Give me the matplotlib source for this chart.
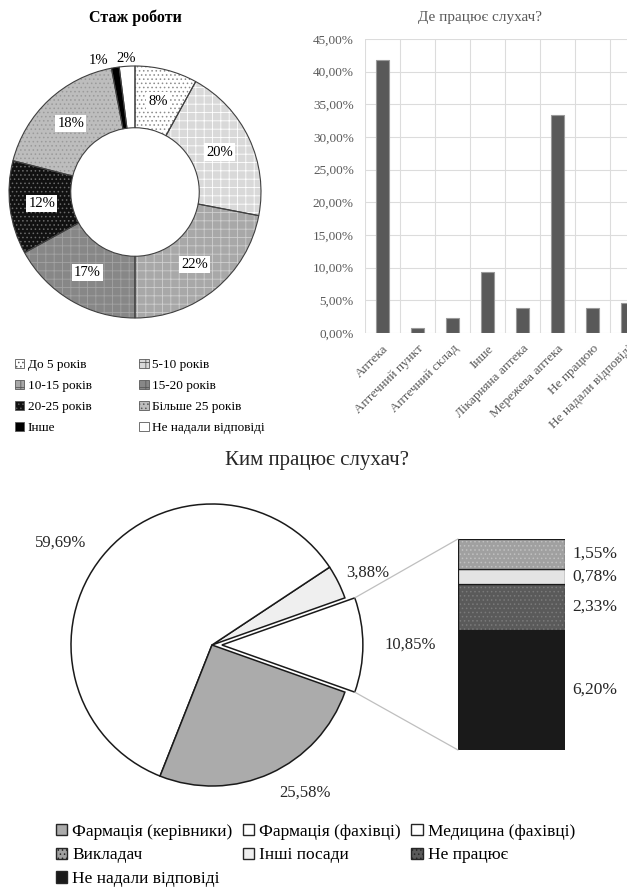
import matplotlib
matplotlib.use("Agg")
import numpy as np
import matplotlib.pyplot as plt
from matplotlib.patches import Patch, ConnectionPatch
from matplotlib.ticker import FuncFormatter

plt.rcParams["font.family"] = ["Liberation Serif", "DejaVu Serif"]
plt.rcParams["hatch.linewidth"] = 0.6

# -- стаж роботи (donut)
stazh_labels = ["До 5 років", "5-10 років", "10-15 років", "15-20 років",
                "20-25 років", "Більше 25 років", "Інше", "Не надали відповіді"]
stazh_vals = [8, 20, 22, 17, 12, 18, 1, 2]

# -- де працює слухач (bars)
work_place = ["Аптека", "Аптечний пункт", "Аптечний склад", "Інше",
              "Лікарняна аптека", "Мережева аптека", "Не працюю",
              "Не надали відповіді"]
work_share = [41.86, 0.78, 2.33, 9.30, 3.88, 33.33, 3.88, 4.65]

# -- ким працює слухач (bar of pie)
pie_labels = ["Інші", "Медицина (фахівці)", "Фармація (фахівці)",
              "Фармація (керівники)"]
pie_vals = [10.85, 3.88, 59.69, 25.58]
sub_labels = ["Не надали відповіді", "Не працює", "Інші посади", "Викладач"]
sub_vals = [6.20, 2.33, 0.78, 1.55]

# -- styles
d_face = ["white", "#d9d9d9", "#a8a8a8", "#878787", "#111111", "#bdbdbd",
          "black", "white"]
d_hcol = ["#8c8c8c", "white", "#cfcfcf", "#a3a3a3", "#6a6a6a", "#9a9a9a",
          "black", "white"]
d_hatch = ["....", "++", "++", "++", "....", "....", "", ""]

def pct(v):
    return "{0:.2f}%".format(v).replace(".", ",")

W, H = 627., 890.
fig = plt.figure(figsize=(W / 100, H / 100), dpi=100)

# ---------------- donut
cx, cy, R = 135., 192., 126.
ax1 = fig.add_axes([(cx - 1.25 * R) / W, 1 - (cy + 1.25 * R) / H,
                    2.5 * R / W, 2.5 * R / H])
wedges, _ = ax1.pie(stazh_vals, startangle=90, counterclock=False,
                    wedgeprops=dict(width=0.49, linewidth=0))
for w, fc, hc, ht in zip(wedges, d_face, d_hcol, d_hatch):
    w.set_facecolor(fc)
    w.set_edgecolor(hc)
    w.set_hatch(ht)
ax1.pie(stazh_vals, startangle=90, counterclock=False,
        wedgeprops=dict(width=0.49, fill=False, edgecolor="#404040",
                        linewidth=0.8))
ax1.set_xlim(-1.25, 1.25)
ax1.set_ylim(-1.25, 1.25)

cum = 0.
for i, v in enumerate(stazh_vals):
    ang = np.deg2rad(90 - 360 * (cum + v / 2.) / 100.)
    cum += v
    if v >= 5:
        r = 0.745
        ax1.text(r * np.cos(ang), r * np.sin(ang), "{0}%".format(v),
                 ha="center", va="center", fontsize=10.5,
                 bbox=dict(boxstyle="square,pad=0.15", fc="white", ec="none"))
    else:
        r = 1.06
        dx = -0.12 if v == 1 else 0.0
        ax1.text(r * np.cos(ang) + dx, r * np.sin(ang), "{0}%".format(v),
                 ha="center", va="center", fontsize=10.5)

fig.text(cx / W, 1 - 18 / H, "Стаж роботи", ha="center", va="center",
         fontsize=11.5, fontweight="bold")

d_handles = [Patch(facecolor=fc, edgecolor="#595959", hatch=ht)
             for fc, ht in zip(d_face, d_hatch)]
order = [0, 2, 4, 6, 1, 3, 5, 7]
leg1 = fig.legend([d_handles[i] for i in order],
                  [stazh_labels[i] for i in order],
                  ncol=2, loc="upper left", bbox_to_anchor=(8 / W, 1 - 352 / H),
                  frameon=False, fontsize=9.5, handlelength=0.7,
                  handleheight=0.7, handletextpad=0.3, columnspacing=3.6,
                  labelspacing=0.68, borderpad=0)
for h in leg1.legend_handles:
    h.set_linewidth(0.6)

# ---------------- bar chart
ax2 = fig.add_axes([365 / W, 1 - 333 / H, 280 / W, 294 / H])
x = np.arange(len(work_place))
ax2.bar(x, work_share, width=0.38, color="#595959", edgecolor="#9a9a9a",
        linewidth=0.8, zorder=3)
ax2.set_xlim(-0.5, len(work_place) - 0.5)
ax2.set_ylim(0, 45)
ax2.set_yticks(np.arange(0, 46, 5))
ax2.yaxis.set_major_formatter(FuncFormatter(lambda v, p: pct(v)))
ax2.set_xticks(x)
ax2.set_xticklabels(work_place, rotation=45, ha="right",
                    rotation_mode="anchor")
for xv in np.arange(-0.5, len(work_place), 1.0):
    ax2.axvline(xv, color="#dcdcdc", lw=0.8, zorder=0)
ax2.yaxis.grid(True, color="#dcdcdc", lw=0.8, zorder=0)
for s in ax2.spines.values():
    s.set_visible(False)
ax2.tick_params(axis="y", length=0, labelsize=9.5, colors="#595959", pad=8)
ax2.tick_params(axis="x", length=0, labelsize=9.5, colors="#595959", pad=7)
fig.text(480 / W, 1 - 17 / H, "Де працює слухач?", ha="center",
         va="center", fontsize=11, color="#595959")

# ---------------- bar of pie
px, py, PR = 212., 645., 141.
ax3 = fig.add_axes([(px - 1.25 * PR) / W, 1 - (py + 1.25 * PR) / H,
                    2.5 * PR / W, 2.5 * PR / H])
half = 360 * pie_vals[0] / 100. / 2
p_face = ["white", "#efefef", "white", "#ababab"]
pw, pt = ax3.pie(pie_vals, labels=[pct(v) for v in pie_vals],
                 startangle=-half, counterclock=True, colors=p_face,
                 explode=[0.07, 0, 0, 0], labeldistance=1.15,
                 wedgeprops=dict(edgecolor="#1a1a1a", linewidth=1.1),
                 textprops=dict(fontsize=12, color="#262626"))
pt[1].set_x(pt[1].get_position()[0] - 0.08)
ax3.set_xlim(-1.25, 1.25)
ax3.set_ylim(-1.25, 1.25)

ax4 = fig.add_axes([458 / W, 1 - 750 / H, 107 / W, 211 / H])
s_face = ["#1a1a1a", "#5a5a5a", "#e4e4e4", "#a0a0a0"]
s_hcol = ["#1a1a1a", "#7a7a7a", "white", "#c0c0c0"]
s_hatch = ["", "....", "", "...."]
bottom = 0.
for v, fc, hc, ht in zip(sub_vals, s_face, s_hcol, s_hatch):
    ax4.bar(0, v, bottom=bottom, width=1.0, color=fc, edgecolor=hc,
            hatch=ht, linewidth=0)
    ax4.bar(0, v, bottom=bottom, width=1.0, fill=False,
            edgecolor="#1a1a1a", linewidth=0.9)
    ax4.text(0.57, bottom + v / 2., pct(v), ha="left", va="center",
             fontsize=12.5, color="#262626")
    bottom += v
ax4.set_xlim(-0.5, 0.5)
ax4.set_ylim(0, bottom)
ax4.axis("off")

a1 = np.deg2rad(half)
for sgn, yb in [(1, bottom), (-1, 0)]:
    con = ConnectionPatch(xyA=(0.07 + np.cos(a1), sgn * np.sin(a1)),
                          coordsA=ax3.transData, xyB=(-0.5, yb),
                          coordsB=ax4.transData, color="#bfbfbf", lw=0.9)
    fig.add_artist(con)

fig.text(317 / W, 1 - 460 / H, "Ким працює слухач?", ha="center",
         va="center", fontsize=15, color="#262626")

p_handles = [Patch(facecolor="#ababab", edgecolor="#262626"),
             Patch(facecolor="#a0a0a0", edgecolor="#262626", hatch="...."),
             Patch(facecolor="#1a1a1a", edgecolor="#262626"),
             Patch(facecolor="white", edgecolor="#262626"),
             Patch(facecolor="#efefef", edgecolor="#262626"),
             Patch(facecolor="white", edgecolor="#262626"),
             Patch(facecolor="#5a5a5a", edgecolor="#262626", hatch="....")]
p_names = ["Фармація (керівники)", "Викладач", "Не надали відповіді",
           "Фармація (фахівці)", "Інші посади", "Медицина (фахівці)",
           "Не працює"]
fig.legend(p_handles, p_names, ncol=3, loc="upper left",
           bbox_to_anchor=(47 / W, 1 - 815 / H), frameon=False,
           prop=dict(family="Liberation Serif", size=12.5),
           handlelength=0.65, handleheight=0.65,
           handletextpad=0.3, columnspacing=0.6, labelspacing=0.45,
           borderpad=0)

fig.savefig("out.png", dpi=100)
